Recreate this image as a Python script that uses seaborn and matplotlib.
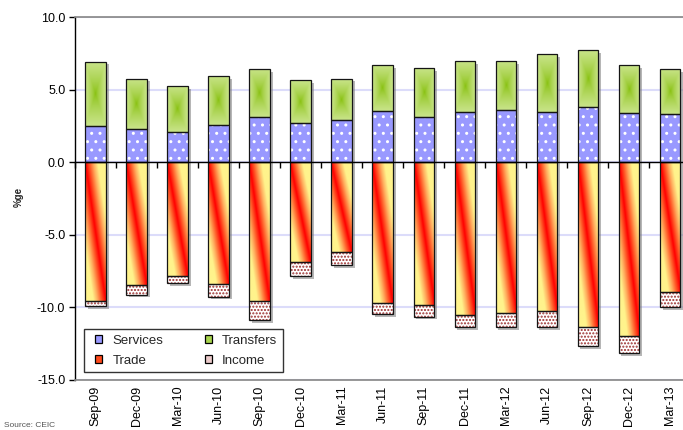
import numpy as np
import matplotlib
matplotlib.use("Agg")
import matplotlib.pyplot as plt
import matplotlib.patheffects as pe
from matplotlib.colors import LinearSegmentedColormap
from matplotlib.patches import Patch, Rectangle
from matplotlib.legend_handler import HandlerPatch
import seaborn as sns

# Quarterly current-account components, % of GDP
quarters = ["Sep-09", "Dec-09", "Mar-10", "Jun-10", "Sep-10", "Dec-10", "Mar-11",
            "Jun-11", "Sep-11", "Dec-11", "Mar-12", "Jun-12", "Sep-12", "Dec-12", "Mar-13"]
services = [2.46, 2.28, 2.07, 2.53, 3.08, 2.69, 2.94, 3.52, 3.08, 3.45, 3.59, 3.45, 3.82, 3.40, 3.29]
transfers = [4.46, 3.47, 3.17, 3.40, 3.33, 2.94, 2.81, 3.17, 3.38, 3.52, 3.38, 3.98, 3.88, 3.29, 3.12]
trade = [-9.59, -8.46, -7.82, -8.37, -9.59, -6.85, -6.16, -9.68, -9.82, -10.53, -10.41, -10.23, -11.36, -11.95, -8.97]
income = [-0.34, -0.66, -0.52, -0.89, -1.26, -1.01, -0.94, -0.79, -0.82, -0.85, -0.97, -1.15, -1.33, -1.20, -1.01]
y_ticks = [-15, -10, -5, 0, 5, 10]

sns.set_theme(style="white")
plt.rcParams["font.family"] = ["Liberation Sans", "DejaVu Sans"]
plt.rcParams["hatch.linewidth"] = 1.0

fig = plt.figure(figsize=(6.83, 4.30), dpi=100)
ax = fig.add_axes([75 / 683, 50 / 430, 615.5 / 683, 363 / 430])

svc = np.array(services)
trf = np.array(transfers)
trd = np.array(trade)
inc = np.array(income)
stacks = [(svc, np.zeros_like(svc)), (trf, svc), (trd, np.zeros_like(trd)), (inc, trd)]


def draw(values, base, **kws):
    n0 = len(ax.patches)
    sns.barplot(x=quarters, y=values, order=quarters, bottom=base, width=0.5,
                errorbar=None, saturation=1, ax=ax, **kws)
    return ax.patches[n0:]


# drop shadows behind every segment
shadow = [pe.SimplePatchShadow(offset=(2, -2), shadow_rgbFace="#7a7a7a", alpha=0.55)]
for vals, base in stacks:
    draw(vals, base, color="black", facecolor="none", linewidth=0,
         path_effects=shadow, zorder=1.5)

# fills
draw(svc, np.zeros_like(svc), color="#9999FF", edgecolor="white", linewidth=0,
     hatch="..", zorder=2)
trf_bars = draw(trf, svc, color="#A9D54E", linewidth=0, zorder=2)
trd_bars = draw(trd, np.zeros_like(trd), color="#FF3300", linewidth=0, zorder=2)
draw(inc, trd, color="white", edgecolor="#9B2F2F", linewidth=0, hatch=".....", zorder=2)

# gradient textures clipped to the bars
green_cmap = LinearSegmentedColormap.from_list(
    "transfers", ["#86C00C", "#A8D24C", "#C9E48A"])
fire_cmap = LinearSegmentedColormap.from_list(
    "trade", ["#FF0000", "#FF5A28", "#FFB060", "#FFF38C"])

gx = np.linspace(-1, 1, 60)[None, :]
gy = np.linspace(-1, 1, 240)[:, None]
green_img = np.maximum(np.abs(gx), np.abs(gy)) ** 0.7

fx = np.linspace(0, 1, 60)[None, :]
fy = np.linspace(0, 1, 300)[:, None]
fire_img = np.clip(np.abs(fx - fy) / 0.6, 0, 1)


def paint(bars, img, cmap):
    for p in bars:
        x0, w = p.get_x(), p.get_width()
        y0, h = p.get_y(), p.get_height()
        lo, hi = min(y0, y0 + h), max(y0, y0 + h)
        im = ax.imshow(img, cmap=cmap, vmin=0, vmax=1, extent=(x0, x0 + w, lo, hi),
                       origin="upper", aspect="auto", interpolation="bilinear", zorder=2.5)
        im.set_clip_path(p)


paint(trf_bars, green_img, green_cmap)
paint(trd_bars, fire_img, fire_cmap)

# outlines
for vals, base in stacks:
    draw(vals, base, color="black", facecolor="none", edgecolor="#151515",
         linewidth=0.9, zorder=3)

# axes styling
ax.set_xlim(-0.5, len(quarters) - 0.5)
ax.set_ylim(-15, 10)
ax.set_xticks(range(len(quarters)), quarters, rotation=90)
ax.set_yticks(y_ticks, [f"{v:.1f}" for v in y_ticks])
ax.tick_params(axis="x", length=0, pad=4, labelsize=9, colors="black")
ax.tick_params(axis="y", left=True, length=4, width=1, direction="out", pad=3,
               labelsize=9, colors="black")
ax.set_xlabel("")
ax.set_ylabel("")
ax.yaxis.grid(True, color="#DCDCFA", linewidth=1.5)
ax.xaxis.grid(False)
ax.set_axisbelow(True)
ax.spines["left"].set_color("black")
ax.spines["left"].set_linewidth(1.0)
ax.spines["top"].set_color("#8a8a8a")
ax.spines["bottom"].set_color("#8a8a8a")
ax.spines["right"].set_visible(False)

# category axis drawn along zero with boundary ticks
lo, hi = ax.get_ylim()
sec = ax.secondary_xaxis((0 - lo) / (hi - lo))
sec.set_xticks(np.arange(len(quarters) + 1) - 0.5)
sec.tick_params(axis="x", direction="in", length=4, width=1, colors="black",
                labeltop=False, labelbottom=False, top=True)
for s in sec.spines.values():
    s.set_color("black")
    s.set_linewidth(1.0)
sec.set_zorder(5)


def square_handle(legend, orig_handle, xdescent, ydescent, width, height, fontsize):
    side = 0.55 * fontsize
    return Rectangle((width - side - xdescent, (height - side) / 2 - ydescent), side, side)


handles = [
    Patch(facecolor="#9999FF", edgecolor="black", linewidth=0.9, label="Services"),
    Patch(facecolor="#FF4A1C", edgecolor="black", linewidth=0.9, label="Trade"),
    Patch(facecolor="#A9D54E", edgecolor="black", linewidth=0.9, label="Transfers"),
    Patch(facecolor="#EBCACA", edgecolor="black", linewidth=0.9, label="Income"),
]
leg = ax.legend(handles=handles, ncol=2, loc="upper left",
                bbox_to_anchor=(84 / 683, 1 - 329 / 430), bbox_transform=fig.transFigure,
                borderaxespad=0, fontsize=9.5, frameon=True, fancybox=False,
                borderpad=0.4, labelspacing=0.6, handlelength=1.0, handletextpad=0.76,
                columnspacing=2.7, handler_map={Patch: HandlerPatch(patch_func=square_handle)})
leg.get_frame().set_edgecolor("black")
leg.get_frame().set_linewidth(1.0)
leg.set_zorder(6)

fig.text(19 / 683, 1 - 197 / 430, "%ge", rotation=90, fontsize=7, fontweight="bold",
         ha="center", va="center")
fig.text(4 / 683, 1 / 430, "Source: CEIC", fontsize=6, color="#555555",
         ha="left", va="bottom")

fig.savefig("out.png", dpi=100)
